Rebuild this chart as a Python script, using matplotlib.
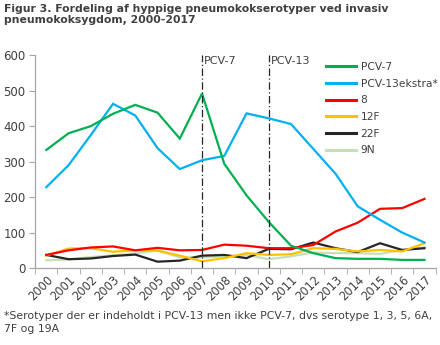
import numpy as np
import matplotlib.pyplot as plt

# Antal tilfælde pr. år for hyppige serotyper
years = [str(y) for y in range(2000, 2018)]
pcv7 = [333, 380, 400, 435, 460, 438, 365, 492, 294, 205, 130, 63, 42, 28, 26, 26, 23, 23]
pcv13_extra = [228, 290, 375, 463, 430, 338, 279, 304, 316, 436, 422, 406, 336, 266, 174, 136, 100, 72]
st8 = [37, 50, 58, 61, 50, 57, 50, 51, 66, 63, 56, 56, 65, 103, 128, 167, 169, 195]
st12f = [35, 55, 56, 46, 50, 49, 35, 19, 28, 42, 37, 39, 56, 54, 47, 51, 47, 70]
st22f = [37, 25, 27, 34, 38, 18, 21, 35, 37, 28, 54, 53, 72, 56, 45, 70, 51, 56]
st9n = [22, 24, 31, 36, 41, 50, 30, 30, 33, 37, 25, 33, 44, 42, 42, 40, 51, 58]

series = [
    ("PCV-7", pcv7, "#00B050"),
    ("PCV-13ekstra*", pcv13_extra, "#00B0F0"),
    ("8", st8, "#FF0000"),
    ("12F", st12f, "#FFC000"),
    ("22F", st22f, "#262626"),
    ("9N", st9n, "#C5E0B4"),
]

txt = "#404040"
plt.rcParams['font.family'] = ['DejaVu Sans']

fig = plt.figure(figsize=(4.4, 3.45), dpi=100)
ax = fig.add_axes([0.08, 0.223, 0.91, 0.617])

x = np.arange(len(years))
# lyse linjer tegnes først, så de mørke ligger øverst
for name, vals, col in reversed(series):
    ax.plot(x, vals, color=col, lw=1.6, label=name, solid_joinstyle='miter')

# vaccineintroduktioner
for pos, lab in [(7, "PCV-7"), (10, "PCV-13")]:
    ax.axvline(pos, color="#262626", lw=0.9, ls=(0, (6, 2, 1, 2)))
    ax.text(pos + 0.1, 583, lab, color=txt, fontsize=8, va='center', ha='left')

ax.set_xlim(-0.5, len(years) - 0.5)
ax.set_ylim(0, 600)
ax.set_yticks(range(0, 601, 100))
ax.set_xticks(x)
ax.set_xticklabels(years, rotation=45, ha='right', rotation_mode='anchor')
ax.set_xticks(np.arange(-0.5, len(years), 1), minor=True)
ax.tick_params(axis='x', which='major', length=0, pad=4, labelsize=8.3, labelcolor=txt)
ax.tick_params(axis='x', which='minor', length=4, color="#A6A6A6")
ax.tick_params(axis='y', length=4, color="#A6A6A6", labelsize=8.5, labelcolor=txt, pad=3)

for s in ['top', 'right']:
    ax.spines[s].set_visible(False)
for s in ['left', 'bottom']:
    ax.spines[s].set_color("#A6A6A6")
    ax.spines[s].set_linewidth(0.9)

handles, labels = ax.get_legend_handles_labels()
leg = ax.legend(handles[::-1], labels[::-1], loc='upper left', bbox_to_anchor=(0.71, 1.0),
                frameon=False, fontsize=7.7, handlelength=2.8, handletextpad=0.4,
                labelspacing=0.62, borderaxespad=0.25)
for t in leg.get_texts():
    t.set_color(txt)
for h in leg.get_lines():
    h.set_linewidth(2.2)

fig.text(0.008, 0.988, "Figur 3. Fordeling af hyppige pneumokokserotyper ved invasiv\npneumokoksygdom, 2000-2017",
         fontsize=7.8, fontweight='bold', color=txt, va='top', ha='left', linespacing=1.15)
fig.text(0.008, 0.098, "*Serotyper der er indeholdt i PCV-13 men ikke PCV-7, dvs serotype 1, 3, 5, 6A,\n7F og 19A",
         fontsize=7.8, color=txt, va='top', ha='left', linespacing=1.35)

fig.savefig("out.png", dpi=100)
